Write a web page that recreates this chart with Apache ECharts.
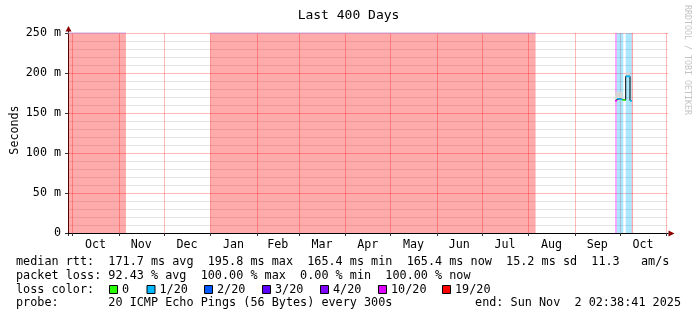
<!DOCTYPE html>
<html><head><meta charset="utf-8">
<script src="https://cdn.jsdelivr.net/npm/echarts@6/dist/echarts.min.js"></script>
<style>html,body{margin:0;padding:0;background:#fff}#c{width:697px;height:321px}</style>
</head><body><div id="c"></div>
<script>
// ---------- data ----------
const endTime = '2025-11-02 02:38:41';
const spanDays = 400;
const monthStarts = ['2024-10-01','2024-11-01','2024-12-01','2025-01-01','2025-02-01','2025-03-01','2025-04-01','2025-05-01','2025-06-01','2025-07-01','2025-08-01','2025-09-01','2025-10-01','2025-11-01'];
const monthLabels = ['Oct','Nov','Dec','Jan','Feb','Mar','Apr','May','Jun','Jul','Aug','Sep','Oct'];
const yTicks = [0,50,100,150,200,250];
const yTickLabels = ['0','50 m','100 m','150 m','200 m','250 m'];
const lossLevels = [0,1,2,3,4,10,19];
const lossNames  = ['0','1/20','2/20','3/20','4/20','10/20','19/20'];
const lossColors = ['#26ff00','#00b8ff','#0059ff','#5e00ff','#7e00ff','#dd00ff','#ff0000'];
// loss background bands
const bandStart = ['2024-09-28 02:38:41','2025-01-01 00:00','2025-09-27 18:40','2025-09-29 02:40','2025-10-04 21:50','2025-10-08 23:00'];
const bandEnd   = ['2024-11-05 18:00','2025-08-05 20:00','2025-09-29 02:40','2025-10-03 07:30','2025-10-08 23:00','2025-10-09 18:40'];
const bandLoss  = [19,19,10,1,1,19];
// median rtt (ms)
const medStart = ['2025-09-27 18:40','2025-09-29 02:40','2025-10-01 00:00','2025-10-02 18:40','2025-10-04 21:50','2025-10-07 18:40'];
const medEnd   = ['2025-09-29 02:40','2025-10-01 00:00','2025-10-02 18:40','2025-10-04 21:50','2025-10-07 18:40','2025-10-08 23:00'];
const medValue = [165.4,167.9,166.8,166.2,195.8,165.4];
const medLoss  = [10,1,1,0,1,1];
// smoke (ms)
const smokeStart = ['2025-09-27 18:40','2025-10-04 21:50'];
const smokeEnd   = ['2025-10-02 18:40','2025-10-07 18:40'];
const smokeLow   = [165.4,195.8];
const smokeHigh  = [176.5,201.0];

// ---------- helpers ----------
function T(s){const [d,t='00:00']=s.split(' ');const [Y,M,D]=d.split('-').map(Number);const [h,mi,se=0]=t.split(':').map(Number);return Date.UTC(Y,M-1,D,h,mi,se);}
function rgba(hex,a){const n=parseInt(hex.slice(1),16);return `rgba(${n>>16&255},${n>>8&255},${n&255},${a})`;}
const lossColor = l => lossColors[lossLevels.indexOf(l)];
const xMax = T(endTime), xMin = xMax - spanDays*864e5;
const monthT = monthStarts.map(T);
const labelT = monthLabels.map((_,i)=>(monthT[i]+monthT[i+1])/2);
const FONT = '"DejaVu Sans Mono", monospace';
const FS = 11.7;
const LFS = 11.8;

// ---------- series ----------
const series = [];
series.push({type:'line',data:[],z:1,silent:true,
  markArea:{silent:true,data:bandStart.map((s,i)=>[{xAxis:T(s),itemStyle:{color:rgba(lossColor(bandLoss[i]),0.33)}},{xAxis:T(bandEnd[i])}])}});
series.push({type:'line',data:[],z:2,silent:true,
  markArea:{silent:true,data:smokeStart.map((s,i)=>[{xAxis:T(s),yAxis:smokeLow[i],itemStyle:{color:'#d6d6d6'}},{xAxis:T(smokeEnd[i]),yAxis:smokeHigh[i]}])}});
const topLine=[];
bandStart.forEach((s,i)=>{ if(bandLoss[i]===19 && T(bandEnd[i])-T(s)>864e5){ topLine.push([T(s),250],[T(bandEnd[i]),250],[T(bandEnd[i])+1,null]); }});
series.push({type:'line',data:topLine,z:3,symbol:'none',clip:false,connectNulls:false,lineStyle:{color:'#c9a6e6',width:1},silent:true});
const medAll=[];
medStart.forEach((s,i)=>{medAll.push([T(s),medValue[i]],[T(medEnd[i]),medValue[i]]);});
series.push({type:'line',data:medAll,z:4,symbol:'none',lineStyle:{color:'#000',width:1},silent:true});
medStart.forEach((s,i)=>{
  series.push({type:'line',data:[[T(s),medValue[i]],[T(medEnd[i]),medValue[i]]],z:5,symbol:'none',lineStyle:{color:lossColor(medLoss[i]),width:1.6},silent:true});
});

// ---------- graphics ----------
const g = [];
const txt=(x,y,text,opt={})=>g.push(Object.assign({type:'text',x,y,silent:true,style:Object.assign({text,font:`${LFS}px ${FONT}`,fill:'#000',textAlign:'left',textVerticalAlign:'middle'},opt.style||{})},opt.el||{}));
txt(348.5,16,'Last 400 Days',{style:{font:`13px ${FONT}`,textAlign:'center'}});
txt(15,130,'Seconds',{style:{font:`${FS}px ${FONT}`,textAlign:'center'},el:{rotation:Math.PI/2}});
txt(687,60,'RRDTOOL / TOBI OETIKER',{style:{font:`8.3px ${FONT}`,fill:'#c4c4c4',textAlign:'center'},el:{rotation:-Math.PI/2}});
txt(16,261.5,'median rtt:  171.7 ms avg  195.8 ms max  165.4 ms min  165.4 ms now  15.2 ms sd  11.3   am/s');
txt(16,275.5,'packet loss: 92.43 % avg  100.00 % max  0.00 % min  100.00 % now');
txt(16,289.5,'loss color:');
const boxX=[109,146.5,204,262,320,378,442];
lossNames.forEach((n,i)=>{
  g.push({type:'rect',silent:true,shape:{x:boxX[i]+0.5,y:285.5,width:8,height:8},style:{fill:lossColors[i],stroke:'#000',lineWidth:1}});
  txt(boxX[i]+13,289.5,n);
});
txt(16,303,'probe:       20 ICMP Echo Pings (56 Bytes) every 300s');
txt(681,303,'end: Sun Nov  2 02:38:41 2025',{style:{textAlign:'right'}});
// axis extensions & arrows
g.push({type:'line',silent:true,shape:{x1:68.5,y1:33,x2:68.5,y2:30},style:{stroke:'#000',lineWidth:1}});
g.push({type:'line',silent:true,shape:{x1:68.5,y1:233,x2:68.5,y2:236},style:{stroke:'#333',lineWidth:1}});
g.push({type:'polygon',silent:true,shape:{points:[[68.5,26],[65.5,31.5],[71.5,31.5]]},style:{fill:'#8b0000'}});
g.push({type:'polygon',silent:true,shape:{points:[[674.5,233.5],[668.5,230.5],[668.5,236.5]]},style:{fill:'#8b0000'}});

const chart = echarts.init(document.getElementById('c'),null,{renderer:'canvas'});
chart.setOption({
  animation:false,
  backgroundColor:'#fff',
  grid:{left:68,right:29,top:33,bottom:88,containLabel:false,outerBoundsMode:'none'},
  xAxis:{type:'value',min:xMin,max:xMax,
    axisLine:{show:true,lineStyle:{color:'#000',width:1}},
    axisTick:{show:true,length:3,lineStyle:{color:'#333'},customValues:monthT},
    axisLabel:{show:true,customValues:labelT,margin:6,color:'#000',fontFamily:FONT,fontSize:FS,
      formatter:v=>{let b=0;labelT.forEach((t,i)=>{if(Math.abs(t-v)<Math.abs(labelT[b]-v))b=i;});return monthLabels[b];}},
    splitLine:{show:true,lineStyle:{color:'rgba(255,0,0,0.28)',width:1}}},
  yAxis:{type:'value',min:0,max:250,interval:50,
    axisLine:{show:true,lineStyle:{color:'#000',width:1}},
    axisTick:{show:true,length:3,lineStyle:{color:'#333'}},
    axisLabel:{margin:7,color:'#000',fontFamily:FONT,fontSize:FS,formatter:v=>yTickLabels[yTicks.indexOf(v)]},
    splitLine:{show:true,lineStyle:{color:'rgba(255,0,0,0.28)',width:1}},
    minorTick:{show:false,splitNumber:5},
    minorSplitLine:{show:true,lineStyle:{color:'rgba(0,0,0,0.1)',width:1}}},
  series,
  graphic:{elements:g}
});
</script></body></html>
